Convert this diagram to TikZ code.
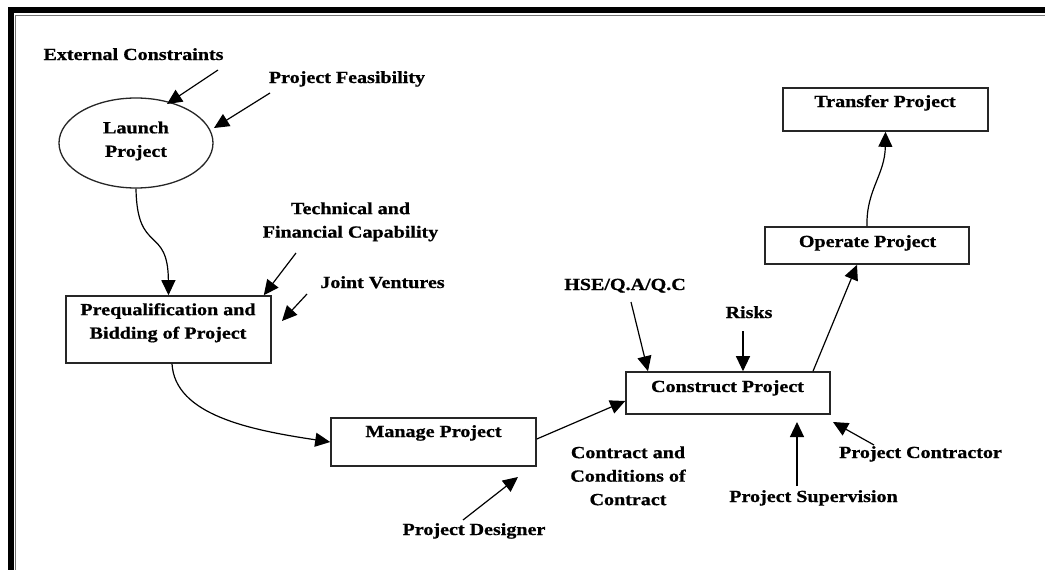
\documentclass[tikz,border=0pt]{standalone}
\usepackage{fontspec}
\setmainfont{Liberation Serif}[FakeStretch=1.18, BoldFeatures={FakeBold=0.8}]
\usetikzlibrary{arrows.meta,shapes.geometric,calc}
\begin{document}
\begin{tikzpicture}[x=1pt,y=-1pt,
  txt/.style={font=\fontsize{17}{23.5}\selectfont\bfseries, inner sep=0pt, align=center},
  box/.style={draw=black!85, line width=1.6pt, inner sep=0pt},
  conn/.style={line width=1.2pt, -{Triangle[length=15pt,width=14pt]}},
]
\useasboundingbox (0,0) rectangle (1045,570);
\fill[white] (0,0) rectangle (1045,570);
% frame
\fill[black] (8,7) rectangle (1045,13);
\fill[black] (8,7) rectangle (14,570);
\draw[black!55, line width=1pt] (15.5,570) -- (15.5,15.5) -- (1045,15.5);

% shapes
\node[box, ellipse, line width=1.3pt, minimum width=154pt, minimum height=90pt] (launch) at (136,143) {};
\node[box, minimum width=205pt, minimum height=67pt] (prequal) at (168.5,329.5) {};
\node[box, minimum width=205pt, minimum height=48pt] (manage) at (433.5,442) {};
\node[box, minimum width=204pt, minimum height=42pt] (construct) at (728,393) {};
\node[box, minimum width=204pt, minimum height=37pt] (operate) at (867,245.5) {};
\node[box, minimum width=205pt, minimum height=43pt] (transfer) at (885.5,109.5) {};

% texts inside shapes
\node[txt] (launch-t) at (136,141) {Launch\\Project};
\node[txt] (prequal-t) at (168,322.8) {Prequalification and\\Bidding of Project};
\node[txt, anchor=base] (manage-t) at (433.5,437) {Manage Project};
\node[txt, anchor=base] (construct-t) at (727.5,392) {Construct Project};
\node[txt, anchor=base] (operate-t) at (867.5,247) {Operate Project};
\node[txt, anchor=base] (transfer-t) at (885,107) {Transfer Project};

% labels
\node[txt, anchor=base] (ec-t) at (133.5,60) {External Constraints};
\node[txt, anchor=base] (pf-t) at (347,83) {Project Feasibility};
\node[txt] (tf-t) at (350.5,221.8) {Technical and\\Financial Capability};
\node[txt, anchor=base] (jv-t) at (382.5,288) {Joint Ventures};
\node[txt, anchor=base] (pd-t) at (474,535) {Project Designer};
\node[txt] (cc-t) at (628,475.8) {Contract and\\Conditions of\\Contract};
\node[txt, anchor=base] (hse-t) at (625,290) {HSE/Q.A/Q.C};
\node[txt, anchor=base] (risks-t) at (749,318) {Risks};
\node[txt, anchor=base] (ps-t) at (813.5,502) {Project Supervision};
\node[txt, anchor=base] (pc-t) at (920.5,458) {Project Contractor};

% free ends
\coordinate (ec-a) at (218,70);  \coordinate (ec-b) at (167,104);
\coordinate (pf-a) at (270,93);  \coordinate (pf-b) at (214,128);
\coordinate (tf-a) at (296,253);
\coordinate (jv-a) at (307,294); \coordinate (jv-b) at (282,321);
\coordinate (pd-a) at (463,520); \coordinate (pd-b) at (518,477);
\coordinate (hse-a) at (631,302);
\coordinate (risks-a) at (743,331);
\coordinate (ps-a) at (797,486); \coordinate (ps-b) at (797,422);
\coordinate (pc-a) at (874,445); \coordinate (pc-b) at (833,422);

% connectors
\draw[conn] (ec-a) -- (ec-b);
\draw[conn] (pf-a) -- (pf-b);
\draw[conn] (launch.south) .. controls (137,255) and (168,225) .. (prequal.north);
\draw[conn] (tf-a) -- ([xshift=-8pt]prequal.north east);
\draw[conn] (jv-a) -- (jv-b);
\draw[conn] ([xshift=3.5pt]prequal.south) .. controls (175,415) and (250,430) .. (manage.west);
\draw[conn] (pd-a) -- (pd-b);
\draw[conn] ([yshift=3pt]manage.east) -- ([yshift=-8pt]construct.west);
\draw[conn] (hse-a) -- ([xshift=-80pt]construct.north);
\draw[conn] (risks-a) -- ([xshift=15pt]construct.north);
\draw[conn] ([xshift=85pt]construct.north) -- ([xshift=-10pt]operate.south);
\draw[conn] (operate.north) .. controls (866,190) and (885,175) .. (transfer.south);
\draw[conn] (ps-a) -- (ps-b);
\draw[conn] (pc-a) -- (pc-b);
\end{tikzpicture}
\end{document}
